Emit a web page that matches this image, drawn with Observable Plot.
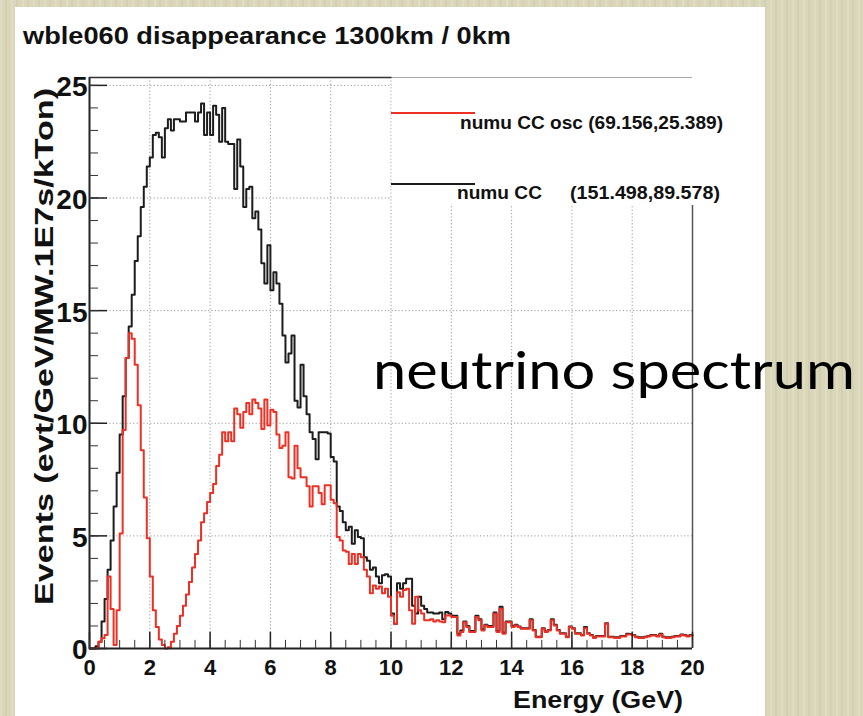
<!DOCTYPE html>
<html><head><meta charset="utf-8">
<script src="https://cdn.jsdelivr.net/npm/d3@7"></script>
<script src="https://cdn.jsdelivr.net/npm/@observablehq/plot@0.6"></script>
<style>
html,body{margin:0;padding:0;}
body{width:863px;height:716px;overflow:hidden;position:relative;background-color:#d9d6b9;
background-image:repeating-linear-gradient(90deg,rgba(255,255,255,0.16) 0px,rgba(255,255,255,0.16) 2px,rgba(0,0,0,0) 2px,rgba(0,0,0,0) 5px,rgba(120,110,60,0.06) 5px,rgba(120,110,60,0.06) 7px,rgba(0,0,0,0) 7px,rgba(0,0,0,0) 11px);}
#panel{position:absolute;left:15px;top:7px;width:750px;height:709px;background:#fff;}
#chart{position:absolute;left:0;top:0;}
</style></head><body>
<div id="panel"></div><div id="chart"></div>
<script>
// bin low edges (0.1 GeV bins from 0 to 20 GeV)
const binWidth = 0.1;
const binLow = d3.range(200).map(i => +(i * binWidth).toFixed(1));

// numu CC (no oscillation), black
const numuCC = [
0,0,0.1,0.3,1.2,2.2,3.5,4.8,6.3,7.8,
9.5,11.2,12.9,14.3,15.7,17.2,18.3,19.6,20.5,21.4,
21.8,22.8,22.9,22.7,21.8,23.1,23.5,23.0,23.5,23.5,
23.4,23.4,23.8,23.8,23.8,23.4,23.8,24.2,22.8,23.8,
22.8,24.1,23.7,22.5,24.0,22.5,22.4,22.4,20.4,22.6,
21.4,19.6,20.4,20.5,19.1,19.4,18.6,17.1,16.2,17.9,
15.9,16.7,16.2,15.3,13.9,12.7,13.1,13.9,11.0,10.7,
12.6,11.2,10.4,9.6,9.3,8.4,9.6,9.6,9.6,9.55,
8.5,8.3,6.3,6.1,5.6,5.25,5.4,4.65,5.25,4.95,
4.9,4.05,3.9,3.5,3.6,3.2,2.9,3.25,3.3,3.2,
1.55,1.1,2.9,2.65,2.9,3.1,3.1,1.9,1.55,2.3,
1.9,1.75,1.6,1.6,1.55,1.55,1.6,1.3,1.62,1.55,
1.45,1.45,0.65,0.8,1.2,1.0,0.78,0.78,1.45,1.3,
0.85,1.05,1.0,1.0,1.6,0.78,1.85,0.7,1.2,1.2,
1.0,1.05,0.98,0.9,0.9,0.9,1.3,0.82,0.52,0.52,
0.9,0.75,0.82,1.3,1.05,0.82,0.68,0.68,0.52,0.98,
0.9,0.68,0.68,0.6,0.95,0.68,0.6,0.5,0.55,0.55,
0.55,1.12,0.52,0.52,0.5,0.5,0.55,0.55,0.65,0.64,
0.6,0.52,0.5,0.5,0.52,0.55,0.6,0.6,0.55,0.65,
0.52,0.5,0.5,0.52,0.55,0.55,0.62,0.6,0.55,0.6
];

// numu CC oscillated, red
const numuCCosc = [
0,0,0,0.3,0.45,0.6,3.2,1.75,0.15,1.7,
5.1,9.7,12.9,14.0,13.75,12.6,10.8,8.8,6.7,4.9,
3.2,1.7,0.95,0.4,0.15,0,0.05,0.3,0.65,1.0,
1.45,1.9,2.4,2.95,3.6,4.2,4.8,5.6,6.0,6.5,
6.9,7.3,8.1,8.6,9.6,9.2,9.6,9.2,10.65,10.4,
9.8,10.5,10.9,10.4,11.05,10.9,10.65,9.75,11.05,9.9,
10.6,10.5,9.5,8.9,9.0,9.6,7.6,7.55,9.0,8.0,
7.6,7.6,7.2,6.3,7.2,7.2,6.9,6.4,7.25,7.25,
6.6,6.45,4.95,4.8,4.35,4.3,3.75,4.2,3.75,4.2,
4.05,3.5,3.2,2.45,2.8,2.65,2.75,2.45,2.65,2.3,
1.45,1.1,2.5,2.3,2.6,2.65,1.7,1.1,2.3,1.7,
1.55,1.25,1.25,1.3,1.2,1.25,1.2,1.17,1.47,1.47,
1.4,1.4,0.58,0.73,1.17,0.95,0.73,0.73,1.4,1.25,
0.8,1.02,0.95,0.95,1.54,0.73,1.77,0.65,1.17,1.17,
0.95,1.02,0.95,0.88,0.88,0.88,1.25,0.8,0.5,0.5,
0.88,0.73,0.8,1.25,1.02,0.8,0.65,0.65,0.5,0.95,
0.88,0.65,0.65,0.58,0.9,0.65,0.58,0.47,0.53,0.53,
0.53,1.1,0.5,0.5,0.47,0.47,0.53,0.53,0.62,0.62,
0.58,0.5,0.47,0.47,0.5,0.53,0.58,0.58,0.53,0.62,
0.5,0.47,0.47,0.5,0.53,0.53,0.6,0.58,0.53,0.58
];

const xTicks = [0,2,4,6,8,10,12,14,16,18,20];
const yTicks = [0,5,10,15,20,25];
const xMinor = d3.range(0, 20.001, 0.5);
const yMinor = d3.range(0, 25.001, 1);

const legendLabels = ["numu CC osc (69.156,25.389)", "numu CC", "(151.498,89.578)"];
const titleText = "wble060 disappearance 1300km / 0km";
const xTitle = "Energy (GeV)";
const yTitle = "Events (evt/GeV/MW.1E7s/kTon)";
const overlayText = "neutrino spectrum";

const xMax = 20, yMax = 25.35;
const legendX1 = 10.04, legendY1 = 19.67;

const steps = vals => binLow.map((e, i) => ({e, v: vals[i]})).concat([{e: xMax, v: vals[vals.length - 1]}]);

const rootFont = "'Liberation Sans', Arial, Helvetica, sans-serif";
const black = "#1c1c1c", red = "#ee3024";
const grid = {stroke: "#9a9a9a", strokeWidth: 1, strokeDasharray: "1.2,2.2", strokeOpacity: 1};

const chart = Plot.plot({
  width: 863, height: 716,
  marginLeft: 89, marginRight: 171, marginTop: 77, marginBottom: 68,
  x: {domain: [0, xMax], axis: null},
  y: {domain: [0, yMax], axis: null},
  style: {background: "transparent", overflow: "visible"},
  marks: [
    Plot.ruleX(xTicks.slice(1, -1), grid),
    Plot.ruleY(yTicks.slice(1), grid),
    Plot.line(steps(numuCC), {x: "e", y: "v", curve: "step-after", stroke: black, strokeWidth: 2}),
    Plot.line(steps(numuCCosc), {x: "e", y: "v", curve: "step-after", stroke: red, strokeWidth: 2}),
    Plot.rect([0], {x1: legendX1, x2: xMax + 0.03, y1: legendY1, y2: yMax + 0.05, fill: "white"}),
    // frame / axes
    Plot.ruleX([0], {stroke: "#222", strokeWidth: 2}),
    Plot.ruleY([0], {stroke: "#222", strokeWidth: 2}),
    Plot.ruleY([yMax], {x1: 0, x2: legendX1, stroke: "#333", strokeWidth: 1.5}),
    Plot.ruleY([yMax], {x1: legendX1, x2: xMax, stroke: "#aaa", strokeWidth: 1}),
    Plot.ruleX([xMax], {y1: 0, y2: legendY1, stroke: "#555", strokeWidth: 1.5}),
    // ticks (inside)
    Plot.ruleY(yTicks, {x1: 0, x2: 0.6, stroke: "#222", strokeWidth: 1.5}),
    Plot.ruleY(yMinor, {x1: 0, x2: 0.3, stroke: "#333", strokeWidth: 1}),
    Plot.ruleX(xTicks, {y1: 0, y2: 0.72, stroke: "#222", strokeWidth: 1.5}),
    Plot.ruleX(xMinor, {y1: 0, y2: 0.36, stroke: "#333", strokeWidth: 1}),
    // tick labels
    Plot.text(yTicks, {x: 0, y: d => d, text: d => String(d), textAnchor: "end", dx: -2, dy: 2,
      fontSize: 28, fontWeight: "bold", fontFamily: rootFont, fill: "#111"}),
    Plot.text(xTicks, {x: d => d, y: 0, text: d => String(d), dy: 19,
      fontSize: 22, fontWeight: "bold", fontFamily: rootFont, fill: "#111"})
  ]
});
document.getElementById("chart").appendChild(chart);

const svg = d3.select(chart);
function addText(str, x, y, opts) {
  const t = svg.append("text").attr("x", x).attr("y", y).text(str)
    .attr("font-family", opts.family || rootFont)
    .attr("font-weight", opts.weight || "bold")
    .attr("font-size", opts.size)
    .attr("fill", opts.fill || "#111")
    .attr("text-anchor", opts.anchor || "start");
  if (opts.len) t.attr("textLength", opts.len).attr("lengthAdjust", "spacingAndGlyphs");
  if (opts.transform) t.attr("transform", opts.transform);
  return t;
}
// title
addText(titleText, 23, 43.5, {size: 23, len: 488});
// y title (rotated)
addText(yTitle, 0, 0, {size: 25, len: 517, transform: "translate(53,605) rotate(-90)"});
// x title
addText(xTitle, 683, 708, {size: 24, len: 170, anchor: "end"});
// legend
svg.append("line").attr("x1", 391).attr("x2", 475).attr("y1", 113).attr("y2", 113).attr("stroke", red).attr("stroke-width", 2);
svg.append("line").attr("x1", 391).attr("x2", 475).attr("y1", 184).attr("y2", 184).attr("stroke", black).attr("stroke-width", 2);
addText(legendLabels[0], 460, 129, {size: 18, len: 263});
addText(legendLabels[1], 457, 199, {size: 18, len: 85});
addText(legendLabels[2], 570, 199, {size: 18, len: 150});
// overlay annotation
addText(overlayText, 373, 389, {size: 53, weight: "normal", family: "Lato, 'Open Sans', sans-serif", fill: "#000", len: 482});
</script></body></html>
